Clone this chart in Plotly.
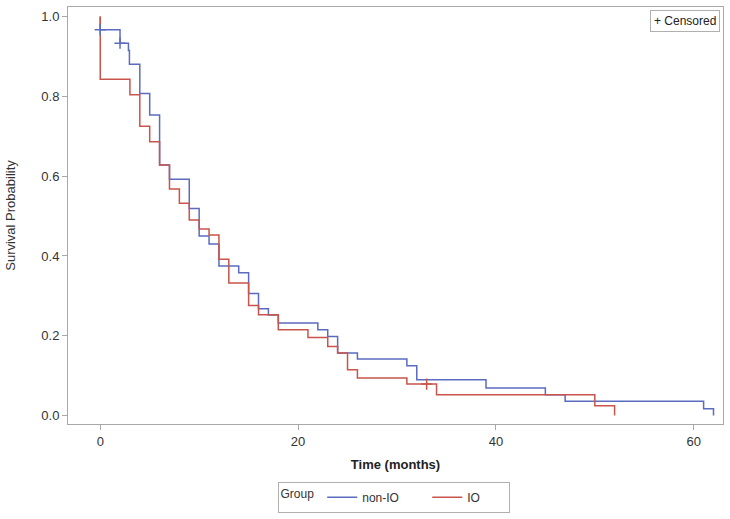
import plotly.graph_objects as go

# Kaplan-Meier step data (time in months, survival probability)
nonio_time = [0, 0, 2, 2.85, 2.95, 4, 5, 6, 7, 9, 10, 11, 12, 14, 15, 16, 17, 18,
              22, 23, 24, 26, 31, 32, 39, 45, 47, 61, 62]
nonio_surv = [1.0, 0.967, 0.933, 0.915, 0.88, 0.807, 0.753, 0.628, 0.592, 0.519,
              0.45, 0.43, 0.375, 0.358, 0.306, 0.268, 0.252, 0.232, 0.215, 0.198,
              0.157, 0.142, 0.125, 0.09, 0.069, 0.0525, 0.036, 0.017, 0.0]

io_time = [0, 0, 3, 4, 5, 6, 7, 8, 9, 10, 11, 12, 13, 15, 16, 18, 21, 23, 24, 25,
           26, 31, 34, 50, 52]
io_surv = [1.0, 0.843, 0.804, 0.725, 0.686, 0.628, 0.568, 0.532, 0.49, 0.4675,
           0.4525, 0.392, 0.332, 0.276, 0.2525, 0.215, 0.196, 0.173, 0.157, 0.115,
           0.094, 0.079, 0.0525, 0.025, 0.0]

# Censored observations
nonio_cens_time = [0, 2]
nonio_cens_surv = [0.967, 0.933]
io_cens_time = [33]
io_cens_surv = [0.079]

group_names = ["non-IO", "IO"]
x_ticks = [0, 20, 40, 60]
y_ticks = [0.0, 0.2, 0.4, 0.6, 0.8, 1.0]

BLUE = "#5B6CC0"
RED = "#C8544B"
FONT = "Liberation Sans"
PAD = "\u00a0" * 7

fig = go.Figure()
fig.add_trace(go.Scatter(x=nonio_time, y=nonio_surv, mode="lines",
                         name=group_names[0] + PAD,
                         line=dict(color=BLUE, width=1.5, shape="hv")))
fig.add_trace(go.Scatter(x=io_time, y=io_surv, mode="lines",
                         name=group_names[1] + PAD,
                         line=dict(color=RED, width=1.5, shape="hv")))
fig.add_trace(go.Scatter(x=nonio_cens_time, y=nonio_cens_surv, mode="markers",
                         showlegend=False,
                         marker=dict(symbol="cross-thin", size=8,
                                     line=dict(color=BLUE, width=1.5))))
fig.add_trace(go.Scatter(x=io_cens_time, y=io_cens_surv, mode="markers",
                         showlegend=False,
                         marker=dict(symbol="cross-thin", size=8,
                                     line=dict(color=RED, width=1.5))))

fig.update_layout(
    width=730, height=519,
    margin=dict(l=68, r=7, t=7, b=94),
    paper_bgcolor="white", plot_bgcolor="white",
    font=dict(family=FONT, size=12, color="#333333"),
    showlegend=True,
    legend=dict(
        title=dict(text="Group", side="left", font=dict(size=12, color="#333333")),
        orientation="h", valign="middle",
        x=0.497, xanchor="center", y=-0.136, yanchor="top",
        bordercolor="#b0b0b0", borderwidth=1,
        font=dict(size=12, color="#333333"),
    ),
    annotations=[dict(
        text="+ Censored", xref="paper", yref="paper", x=0.995, y=0.993,
        xanchor="right", yanchor="top", showarrow=False,
        bordercolor="#b0b0b0", borderwidth=1, borderpad=3,
        font=dict(size=12, color="#222222"), bgcolor="white",
    )],
)

fig.update_xaxes(
    range=[-3.26, 62.96], tickvals=x_ticks, ticktext=[str(v) for v in x_ticks],
    showgrid=False, zeroline=False, automargin=False,
    showline=True, mirror=True, linecolor="#a8a8a8", linewidth=1,
    ticks="outside", ticklen=5, tickcolor="#a8a8a8",
    tickfont=dict(size=13, color="#333333"),
    title=dict(text="Time (months)", font=dict(size=13, color="#222222", weight="bold"),
               standoff=12),
)
fig.update_yaxes(
    range=[-0.021, 1.0237], tickvals=y_ticks, ticktext=[f"{v:.1f}" for v in y_ticks],
    showgrid=False, zeroline=False, automargin=False,
    showline=True, mirror=True, linecolor="#a8a8a8", linewidth=1,
    ticks="outside", ticklen=5, tickcolor="#a8a8a8",
    tickfont=dict(size=13, color="#333333"),
    title=dict(text="Survival Probability", font=dict(size=13, color="#333333"),
               standoff=22),
)

fig.write_html("out.html", config={"displayModeBar": False},
               post_script="document.body.style.margin='0px';")
